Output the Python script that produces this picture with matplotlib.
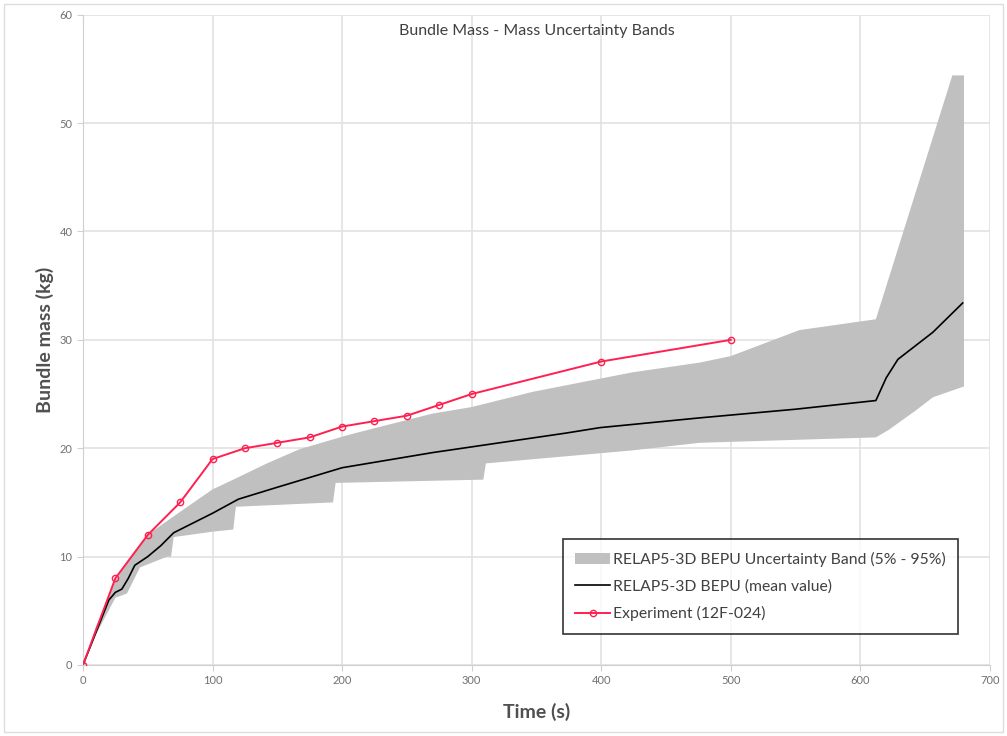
import numpy as np
import matplotlib.pyplot as plt

plt.rcParams['font.family'] = ['Lato', 'DejaVu Sans']

# experiment (12F-024)
exp_t = [0, 25, 50, 75, 100, 125, 150, 175, 200, 225, 250, 275, 300, 400, 500]
exp_m = [0, 8, 12, 15, 19, 20, 20.5, 21, 22, 22.5, 23, 24, 25, 28, 30]

# RELAP5-3D mean value
mean_t = [0, 10, 20, 25, 30, 35, 40, 50, 60, 70, 80, 90, 100, 120, 150, 175, 200,
          270, 373, 399, 476, 550, 612, 620, 629, 656, 679]
mean_m = [0, 3, 6, 6.7, 7, 8, 9.2, 10, 11, 12.2, 12.8, 13.4, 14, 15.3, 16.4, 17.3, 18.2,
          19.6, 21.4, 21.9, 22.8, 23.6, 24.4, 26.5, 28.2, 30.7, 33.4]

# uncertainty band edges (95% / 5%)
upper_t = [0, 10, 25, 40, 52, 77, 100, 116, 142, 167, 204, 230, 270, 300, 347, 424, 476, 500,
           553, 612, 671, 680]
upper_m = [0, 3.5, 7.8, 10.5, 12.2, 14.3, 16.2, 17.1, 18.6, 19.9, 21.2, 22.0, 23.2, 23.8, 25.2,
           27.0, 27.9, 28.5, 30.9, 31.9, 54.4, 54.4]
lower_t = [0, 10, 25, 34, 44, 65, 68, 70, 100, 116, 118, 193, 195, 309, 311, 424, 476, 612, 622,
           643, 656, 680]
lower_m = [0, 2.8, 6.2, 6.6, 9.0, 10.0, 10.0, 11.8, 12.3, 12.5, 14.6, 15.0, 16.8, 17.1, 18.6, 19.8,
           20.5, 21.0, 21.7, 23.5, 24.7, 25.7]

fig = plt.figure(figsize=(10.07, 7.36), dpi=100)
ax = fig.add_axes([0.0824, 0.0965, 0.9006, 0.8835])

band = ax.fill(upper_t + lower_t[::-1], upper_m + lower_m[::-1], color='#c0c0c0', lw=0,
               label='RELAP5-3D BEPU Uncertainty Band (5% - 95%)', zorder=2)[0]
mline, = ax.plot(mean_t, mean_m, color='black', lw=1.2, label='RELAP5-3D BEPU (mean value)', zorder=3)
eline, = ax.plot(exp_t, exp_m, color='#ff2050', lw=1.4, marker='o', ms=4.5, mfc='none', mew=1,
                 label='Experiment (12F-024)', zorder=4)

ax.set_xlim(0, 700)
ax.set_ylim(0, 60)
ax.set_xticks(range(0, 701, 100))
ax.set_yticks(range(0, 61, 10))
ax.grid(True, color='#e2e2e2', lw=1.2, zorder=0)
ax.set_axisbelow(True)
for s in ['top', 'right']:
    ax.spines[s].set_visible(False)
for s in ['left', 'bottom']:
    ax.spines[s].set_color('#d0d0d0')
ax.tick_params(colors='#d0d0d0', labelcolor='#707070', labelsize=8, length=4)

ax.set_xlabel('Time (s)', fontsize=14, fontweight='bold', color='#505050', labelpad=12)
ax.set_ylabel('Bundle mass (kg)', fontsize=14, fontweight='bold', color='#505050', labelpad=4)
ax.text(0.5, 0.985, 'Bundle Mass - Mass Uncertainty Bands', transform=ax.transAxes,
        ha='center', va='top', fontsize=11.5, color='#404040')

leg = ax.legend(handles=[band, mline, eline], loc='lower right', bbox_to_anchor=(0.974, 0.036),
                fontsize=11.3, frameon=True, fancybox=False, edgecolor='black',
                handlelength=2.2, handletextpad=0.2, labelspacing=0.8, borderpad=0.8)
leg.get_frame().set_linewidth(1.2)
for t in leg.get_texts():
    t.set_color('#404040')

fig.patches.append(plt.Rectangle((0.004, 0.005), 0.992, 0.99, transform=fig.transFigure,
                                 fill=False, edgecolor='#dddddd', lw=1))

fig.savefig('out.png', dpi=100)
